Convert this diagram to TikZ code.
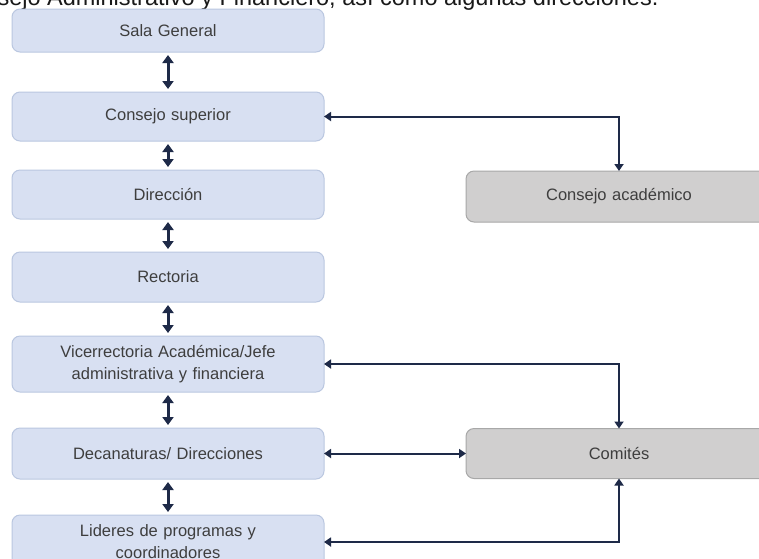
\documentclass[tikz,border=0pt]{standalone}
\usepackage{fontspec}
\setmainfont{Liberation Sans}
\usetikzlibrary{positioning,arrows.meta}

\definecolor{boxblue}{RGB}{216,224,242}
\definecolor{boxblueline}{RGB}{186,199,224}
\definecolor{boxgrey}{RGB}{208,207,207}
\definecolor{boxgreyline}{RGB}{168,168,168}
\definecolor{arrownavy}{RGB}{30,42,72}
\definecolor{textgrey}{RGB}{62,62,62}

\tikzset{
    orgbox/.style={draw=boxblueline, fill=boxblue, line width=1pt,
        rounded corners=8pt, minimum width=312pt, minimum height=48pt,
        text width=296pt, align=center, inner sep=0pt, outer sep=0pt,
        text=textgrey, font=\fontsize{16.5}{22}\selectfont},
    sidebox/.style={orgbox, draw=boxgreyline, fill=boxgrey,
        minimum width=306pt},
    linkarrow/.style={arrownavy, line width=2pt,
        {Triangle[width=9pt,length=7pt]}-{Triangle[width=9pt,length=7pt]}},
    stackarrow/.style={arrownavy, line width=3pt,
        {Triangle[width=11pt,length=8pt]}-{Triangle[width=11pt,length=8pt]},
        shorten <=3pt, shorten >=3pt}
}

\begin{document}
\begin{tikzpicture}[x=1pt, y=-1pt]
    \fill[white] (0,0) rectangle (759,558);
    \path[use as bounding box] (0,0) rectangle (759,558);
    \clip (0,0) rectangle (759,558);

    % heading line, cut by the frame
    \node[anchor=base east, font=\fontsize{23.5}{26}\selectfont, text=black!90]
        (heading) at (662,5) {Consejo Administrativo y Financiero, así como algunas direcciones.};

    % main column
    \node[orgbox, minimum height=43pt] (sala) at (168,30.5) {Sala General};
    \node[orgbox, minimum height=49pt, below=40pt of sala] (csup) {Consejo superior};
    \node[orgbox, minimum height=49pt, below=29pt of csup] (dir) {Dirección};
    \node[orgbox, minimum height=50pt, below=33pt of dir] (rect) {Rectoria};
    \node[orgbox, minimum height=56pt, below=34pt of rect] (vice)
        {Vicerrectoria Académica/Jefe\\administrativa y financiera};
    \node[orgbox, minimum height=51pt, below=36pt of vice] (decan) {Decanaturas/ Direcciones};
    \node[orgbox, minimum height=54pt, below=36pt of decan] (lider)
        {Lideres de programas y\\coordinadores};

    % side boxes
    \node[sidebox, minimum height=51pt, right=142pt of dir, yshift=-2pt] (cacad) {Consejo académico};
    \node[sidebox, minimum height=50pt, right=142pt of decan] (comite) {Comités};

    \draw[stackarrow] (sala) -- (csup);
    \draw[stackarrow] (csup) -- (dir);
    \draw[stackarrow] (dir) -- (rect);
    \draw[stackarrow] (rect) -- (vice);
    \draw[stackarrow] (vice) -- (decan);
    \draw[stackarrow] (decan) -- (lider);

    \draw[linkarrow] (csup.east) -| (cacad.north);
    \draw[linkarrow] (vice.east) -| (comite.north);
    \draw[linkarrow] (decan.east) -- (comite.west);
    \draw[linkarrow] (lider.east) -| (comite.south);
\end{tikzpicture}
\end{document}
